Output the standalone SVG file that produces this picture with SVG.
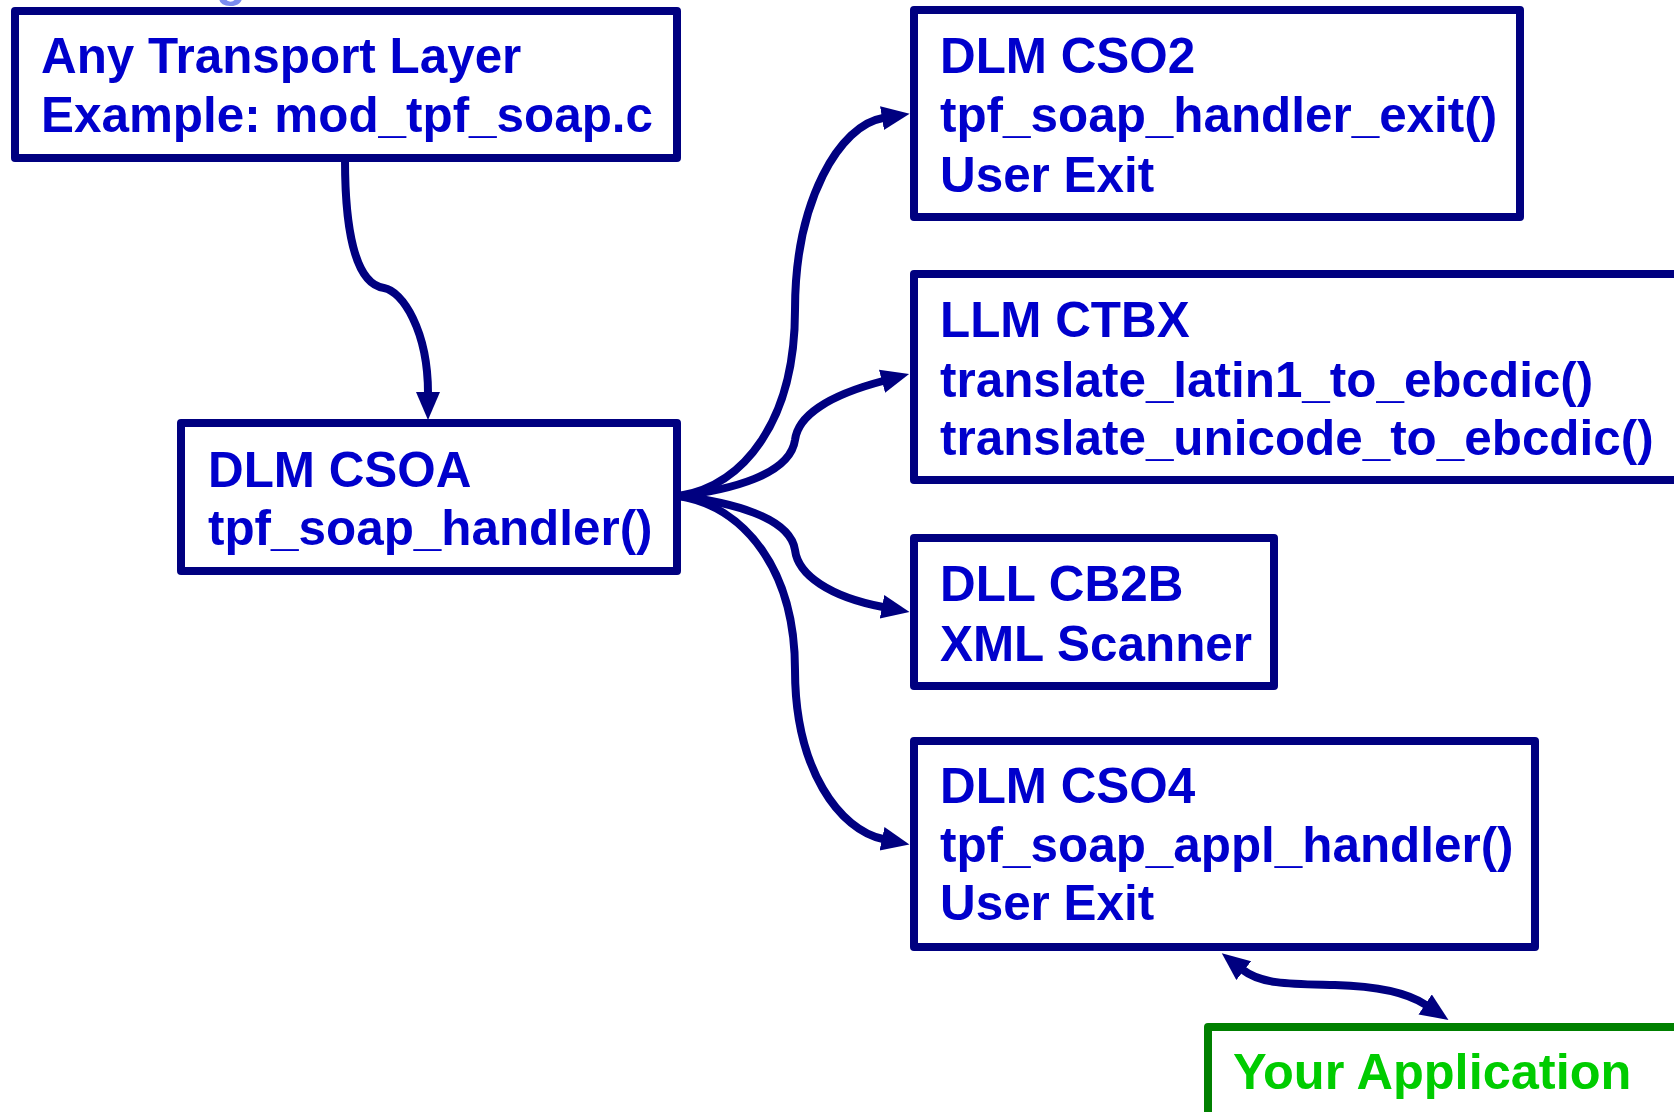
<svg xmlns="http://www.w3.org/2000/svg" width="1674" height="1112" viewBox="0 0 1674 1112">
<defs>
<style>
.box{fill:#ffffff;stroke:#000080;stroke-width:8;stroke-linejoin:round}
.gbox{fill:#ffffff;stroke:#008000;stroke-width:8;stroke-linejoin:round}
.t{font-family:"Liberation Sans",Arial,sans-serif;font-weight:bold;font-size:49.4px;fill:#0000cc}
.gt{font-family:"Liberation Sans",Arial,sans-serif;font-weight:bold;font-size:50.5px;fill:#00cc00}
.c{fill:none;stroke:#000080;stroke-width:8;stroke-linecap:round}
</style>
<marker id="ah" markerUnits="userSpaceOnUse" markerWidth="30" markerHeight="26" refX="1" refY="12" orient="auto-start-reverse" viewBox="0 0 30 26">
<path d="M0,0 L28,12 L0,24 z" fill="#000080"/>
</marker>
</defs>
<rect width="1674" height="1112" fill="#ffffff"/>
<text x="216" y="-4" font-family="Liberation Sans, Arial, sans-serif" font-weight="bold" font-size="49" fill="#7b8cf0">g</text>
<g id="connectors">
<path class="c" d="M345,160 C345,225 354,284 384,288 C402,291 428,330 428,393" marker-end="url(#ah)"/>
<path class="c" d="M679,496 C745,485 795,420 795,310 C795,200 840,125 883,118" marker-end="url(#ah)"/>
<path class="c" d="M679,496 C730,490 790,475 795,440 C798,415 830,395 883,381" marker-end="url(#ah)"/>
<path class="c" d="M679,496 C730,502 790,517 795,550 C798,575 830,597 883,607" marker-end="url(#ah)"/>
<path class="c" d="M679,496 C745,507 795,570 795,670 C795,770 840,830 883,839" marker-end="url(#ah)"/>
<path class="c" d="M1243,970 C1262,985 1295,984 1335,985 C1375,986 1408,993 1426,1005" marker-start="url(#ah)" marker-end="url(#ah)"/>
</g>
<g id="node-transport">
<rect class="box" x="15" y="11" width="662" height="147"/>
<text class="t" x="41" y="73">Any Transport Layer</text>
<text class="t" x="41" y="132">Example: mod_tpf_soap.c</text>
</g>
<g id="node-csoa">
<rect class="box" x="181" y="423" width="496" height="148"/>
<text class="t" x="208" y="487">DLM CSOA</text>
<text class="t" x="208" y="545">tpf_soap_handler()</text>
</g>
<g id="node-cso2">
<rect class="box" x="914" y="10" width="606" height="207"/>
<text class="t" x="940" y="73">DLM CSO2</text>
<text class="t" x="940" y="132">tpf_soap_handler_exit()</text>
<text class="t" x="940" y="192">User Exit</text>
</g>
<g id="node-ctbx">
<rect class="box" x="914" y="274" width="800" height="206"/>
<text class="t" x="940" y="337">LLM CTBX</text>
<text class="t" x="940" y="397">translate_latin1_to_ebcdic()</text>
<text class="t" x="940" y="455">translate_unicode_to_ebcdic()</text>
</g>
<g id="node-cb2b">
<rect class="box" x="914" y="538" width="360" height="148"/>
<text class="t" x="940" y="601">DLL CB2B</text>
<text class="t" x="940" y="661">XML Scanner</text>
</g>
<g id="node-cso4">
<rect class="box" x="914" y="741" width="621" height="206"/>
<text class="t" x="940" y="803">DLM CSO4</text>
<text class="t" x="940" y="862">tpf_soap_appl_handler()</text>
<text class="t" x="940" y="920">User Exit</text>
</g>
<g id="node-app">
<rect class="gbox" x="1208" y="1027" width="520" height="130"/>
<text class="gt" x="1233" y="1089">Your Application</text>
</g>
</svg>
